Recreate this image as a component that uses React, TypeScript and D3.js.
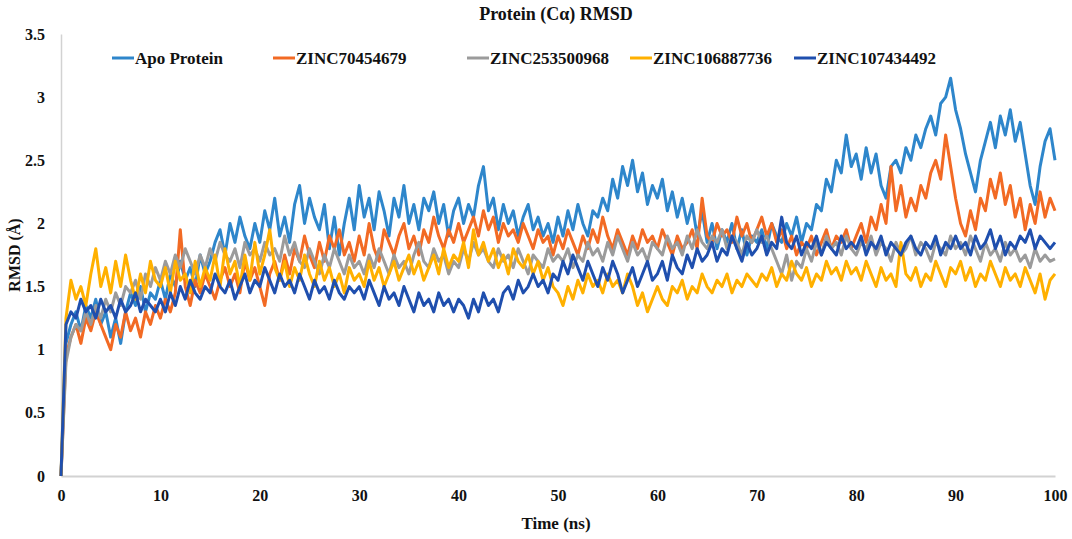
import { useEffect, useRef } from 'react';
import * as d3 from 'd3';

// sampled every 0.5 ns, 0..100
const STEP = 0.5;

const apoProtein = [
  0, 1.05, 1.2, 1.3, 1.15, 1.35, 1.25, 1.4, 1.2, 1.3, 1.1, 1.25, 1.05, 1.3, 1.45, 1.35, 1.5, 1.3, 1.45, 1.4,
  1.55, 1.4, 1.6, 1.5, 1.7, 1.55, 1.65, 1.5, 1.75, 1.6, 1.7, 1.85, 1.95, 1.75, 2.0, 1.85, 2.05, 1.9, 1.8, 2.0,
  1.85, 2.1, 1.95, 2.2, 1.9, 2.05, 1.85, 2.15, 2.3, 2.0, 2.2, 2.05, 1.95, 2.15, 1.8, 2.05, 1.75, 2.0, 2.2, 1.95,
  2.3, 2.05, 2.2, 1.95, 2.25, 2.1, 1.9, 2.2, 2.05, 2.3, 2.0, 2.15, 1.95, 2.2, 2.1, 2.25, 2.0, 2.15, 1.9, 2.1,
  2.2, 2.0, 2.15, 2.05, 2.3, 2.45, 2.1, 2.2, 1.95, 2.15, 2.0, 2.1, 1.9, 2.05, 2.15, 1.95, 2.05, 1.9, 2.0, 1.85,
  2.05, 1.9, 2.1, 1.95, 2.15, 2.0, 1.9, 2.1, 2.05, 2.2, 2.1, 2.35, 2.2, 2.45, 2.3, 2.5, 2.25, 2.4, 2.15, 2.3,
  2.2, 2.35, 2.1, 2.25, 2.05, 2.2, 2.0, 2.15, 1.9, 2.1, 1.85, 2.0, 1.8, 1.95, 1.85, 2.0, 1.8, 1.95, 1.75, 1.9,
  1.85, 1.95, 1.8, 2.0, 1.9, 1.85, 2.0, 1.9, 2.05, 1.85, 2.0, 1.95, 2.15, 2.1, 2.35, 2.25, 2.5, 2.4, 2.7, 2.45,
  2.55, 2.35, 2.6, 2.4, 2.55, 2.3, 2.2, 2.45, 2.5, 2.4, 2.6, 2.5, 2.7, 2.6, 2.75, 2.85, 2.7, 2.95, 3.0, 3.15,
  2.9, 2.75, 2.55, 2.4, 2.25, 2.5, 2.65, 2.8, 2.6, 2.85, 2.7, 2.9, 2.65, 2.8, 2.55, 2.3, 2.15, 2.45, 2.65, 2.75,
  2.5,
];

const zinc70454679 = [
  0, 0.95, 1.1, 1.2, 1.05, 1.25, 1.15, 1.3, 1.2, 1.1, 1.0, 1.2, 1.1, 1.3, 1.15, 1.25, 1.1, 1.3, 1.2, 1.35,
  1.25, 1.4, 1.3, 1.45, 1.95, 1.5, 1.35, 1.55, 1.45, 1.6, 1.5, 1.4, 1.55, 1.65, 1.5, 1.6, 1.45, 1.7, 1.55, 1.65,
  1.5, 1.35, 1.6, 1.7, 1.55, 1.75, 1.6, 1.8, 1.7, 1.9, 1.75, 1.65, 1.85, 1.7, 1.9, 1.8, 1.95, 1.75, 1.85, 1.7,
  1.9, 1.75, 2.0, 1.8, 1.7, 1.95, 1.85, 1.75, 1.9, 2.0, 1.8, 1.9, 1.75, 1.95, 1.85, 2.05, 1.9, 1.8, 1.95, 1.85,
  2.0, 1.85, 1.95, 2.05, 1.9, 2.1, 1.95, 2.05, 1.85, 2.0, 1.9, 1.95, 1.85, 2.0, 1.9, 1.8, 1.95, 1.85, 1.9, 1.75,
  1.9, 1.8, 1.95, 1.85, 1.75, 1.9, 1.8, 1.95, 1.85, 2.05, 1.9, 1.8, 1.95, 1.85, 1.75, 1.9, 1.8, 1.95, 1.85, 1.9,
  1.8, 1.95, 1.85, 1.75, 1.9, 1.8, 1.85, 1.95, 1.8, 2.2, 1.9, 1.85, 2.0, 1.9, 1.95, 1.85, 2.05, 1.9, 2.0, 1.85,
  1.95, 2.05, 1.9, 2.0, 1.85, 1.95, 1.8, 1.9, 1.75, 1.85, 1.8, 1.9, 1.75, 1.85, 1.95, 1.8, 1.9, 1.85, 1.95, 1.8,
  1.9, 2.0, 1.85, 2.05, 1.95, 2.15, 2.0, 2.45, 2.1, 2.3, 2.05, 2.2, 2.1, 2.3, 2.2, 2.4, 2.5, 2.35, 2.7, 2.45,
  2.2, 2.0, 1.9, 2.1, 1.95, 2.2, 2.1, 2.35, 2.2, 2.4, 2.15, 2.3, 2.05, 2.2, 1.95, 2.15, 2.0, 2.25, 2.05, 2.2,
  2.1,
];

const zinc253500968 = [
  0, 0.9, 1.1, 1.2, 1.15, 1.3, 1.2, 1.35, 1.25, 1.4, 1.3, 1.45, 1.35, 1.5, 1.45, 1.55, 1.4, 1.6, 1.5, 1.65,
  1.55, 1.7, 1.6, 1.75, 1.65, 1.8, 1.7, 1.6, 1.75, 1.65, 1.8, 1.7, 1.85, 1.75, 1.7, 1.8, 1.65, 1.85, 1.75, 1.8,
  1.7, 1.85, 1.75, 1.8, 1.7, 1.9, 1.75, 1.85, 1.7, 1.65, 1.8, 1.7, 1.6, 1.75, 1.65, 1.8, 1.7, 1.6, 1.75, 1.65,
  1.7, 1.6, 1.75, 1.65, 1.8, 1.7, 1.6, 1.75, 1.65, 1.7, 1.6, 1.75, 1.85, 1.7, 1.65, 1.8, 1.7, 1.75, 1.6, 1.7,
  1.65, 1.8, 1.7, 1.85, 1.75, 1.8, 1.7, 1.65, 1.8, 1.7, 1.75, 1.65, 1.8, 1.7, 1.6, 1.75, 1.7, 1.65, 1.8, 1.7,
  1.75, 1.7, 1.8, 1.65, 1.75, 1.7, 1.85, 1.75, 1.8, 1.7, 1.85, 1.75, 1.9, 1.8, 1.7, 1.85, 1.75, 1.8, 1.7, 1.85,
  1.8, 1.75, 1.9, 1.8, 1.85, 1.75, 1.9, 1.8, 1.95, 1.85, 1.8, 1.9, 1.85, 1.95, 1.8, 1.9, 1.85, 1.75, 1.9, 1.85,
  1.95, 1.85, 1.9, 1.8, 1.7, 1.6, 1.75, 1.55, 1.7, 1.65, 1.8, 1.7, 1.85, 1.75, 1.9, 1.8, 1.85, 1.75, 1.9, 1.8,
  1.75, 1.85, 1.8, 1.9, 1.75, 1.85, 1.8, 1.7, 1.85, 1.75, 1.8, 1.9, 1.75, 1.85, 1.8, 1.7, 1.85, 1.8, 1.75, 1.9,
  1.8, 1.85, 1.75, 1.9, 1.8, 1.7, 1.85, 1.75, 1.8, 1.7, 1.85, 1.75, 1.8, 1.7, 1.75, 1.65, 1.8, 1.7, 1.75, 1.7,
  1.72,
];

const zinc106887736 = [
  0, 1.25, 1.55, 1.4, 1.5, 1.35, 1.6, 1.8, 1.5, 1.65, 1.45, 1.7, 1.5, 1.75, 1.55, 1.4, 1.6, 1.45, 1.7, 1.55,
  1.5, 1.65, 1.45, 1.7, 1.55, 1.6, 1.45, 1.7, 1.5, 1.65, 1.55, 1.75, 1.5, 1.8, 1.6, 1.7, 1.5, 1.75, 1.55, 1.85,
  1.6, 1.75, 1.95, 1.65, 1.55, 1.7, 1.5, 1.65, 1.55, 1.75, 1.6, 1.5, 1.7, 1.55, 1.65, 1.5, 1.6, 1.45, 1.65, 1.55,
  1.6, 1.5, 1.7, 1.55, 1.65, 1.5, 1.6, 1.7, 1.55, 1.65, 1.75, 1.6, 1.7, 1.55, 1.65, 1.75, 1.6, 1.8, 1.65, 1.75,
  1.7, 1.85, 1.65, 1.95, 1.75, 1.85, 1.7, 1.8, 1.65, 1.75, 1.6, 1.8, 1.7, 1.65, 1.75, 1.6, 1.7, 1.55, 1.65, 1.5,
  1.45, 1.35, 1.5, 1.4, 1.55, 1.45, 1.6, 1.5, 1.55, 1.45, 1.6, 1.5, 1.55, 1.45, 1.6, 1.5, 1.35, 1.45, 1.3, 1.4,
  1.5, 1.4, 1.35, 1.5, 1.45, 1.55, 1.4, 1.5, 1.45, 1.6, 1.5, 1.45, 1.55, 1.5, 1.6, 1.45, 1.55, 1.5, 1.6, 1.55,
  1.5, 1.6, 1.55, 1.65, 1.5, 1.6, 1.55, 1.7, 1.6, 1.55, 1.65, 1.5, 1.6, 1.55, 1.7, 1.6, 1.65, 1.55, 1.7, 1.6,
  1.65, 1.55, 1.7, 1.6, 1.5, 1.65, 1.55, 1.6, 1.5, 1.85, 1.6, 1.55, 1.65, 1.5, 1.6, 1.55, 1.7, 1.6, 1.5, 1.65,
  1.6, 1.7, 1.55, 1.65, 1.5, 1.6, 1.55, 1.7, 1.6, 1.5, 1.65, 1.55, 1.6, 1.5, 1.65, 1.55, 1.45, 1.6, 1.4, 1.55,
  1.6,
];

const zinc107434492 = [
  0, 1.2, 1.3, 1.25, 1.4, 1.3, 1.35, 1.25, 1.4, 1.3, 1.35, 1.25, 1.4, 1.3, 1.35, 1.45, 1.3, 1.4, 1.35, 1.3,
  1.4, 1.3, 1.45, 1.35, 1.5, 1.4, 1.55, 1.45, 1.4, 1.5, 1.45, 1.6, 1.5, 1.45, 1.55, 1.4, 1.5, 1.6, 1.45, 1.55,
  1.5, 1.65, 1.55, 1.45, 1.6, 1.5, 1.55, 1.45, 1.6, 1.5, 1.4, 1.55, 1.45, 1.5, 1.4, 1.55, 1.45, 1.4, 1.5, 1.45,
  1.5, 1.4, 1.55, 1.45, 1.35, 1.5, 1.4, 1.45, 1.35, 1.5, 1.4, 1.3, 1.45, 1.35, 1.4, 1.3, 1.45, 1.35, 1.4, 1.3,
  1.4, 1.35, 1.25, 1.4, 1.3, 1.45, 1.35, 1.4, 1.3, 1.45, 1.5, 1.4, 1.55, 1.45, 1.5, 1.6, 1.5, 1.55, 1.45, 1.6,
  1.55, 1.7, 1.6, 1.75, 1.65, 1.55, 1.7, 1.6, 1.5, 1.65, 1.55, 1.7, 1.6, 1.45, 1.55, 1.65, 1.5, 1.6, 1.7, 1.55,
  1.6, 1.7, 1.55, 1.75, 1.65, 1.6, 1.75, 1.65, 1.8, 1.7, 1.75, 1.85, 1.7, 1.8, 1.75, 1.9, 1.8, 1.7, 1.85, 1.75,
  1.8, 1.9, 1.75, 1.85, 1.8, 2.05, 1.85, 1.8, 1.9, 1.75, 1.85, 1.8, 1.9, 1.75, 1.85, 1.8, 1.75, 1.9, 1.8, 1.85,
  1.8, 1.9, 1.75, 1.85, 1.8, 1.9, 1.75, 1.85, 1.8, 1.75, 1.85, 1.9, 1.8, 1.75, 1.85, 1.8, 1.9, 1.75, 1.85, 1.8,
  1.9, 1.8, 1.85, 1.75, 1.9, 1.8, 1.85, 1.95, 1.8, 1.9, 1.75, 1.85, 1.8, 1.9, 1.85, 1.95, 1.8, 1.9, 1.85, 1.8,
  1.85,
];

const seriesNames = ['Apo Protein', 'ZINC70454679', 'ZINC253500968', 'ZINC106887736', 'ZINC107434492'];
const seriesValues = [apoProtein, zinc70454679, zinc253500968, zinc106887736, zinc107434492];
const seriesColors = ['#2e86cb', '#f26a24', '#9b9b9b', '#ffb000', '#1f4fae'];

const xTicks = [0, 10, 20, 30, 40, 50, 60, 70, 80, 90, 100];
const yTicks = [0, 0.5, 1, 1.5, 2, 2.5, 3, 3.5];

const WIDTH = 1072;
const HEIGHT = 539;
const FONT = '"Liberation Serif", "Times New Roman", serif';
const AXIS = '#d2d2d2';

export default function App() {
  const ref = useRef<SVGSVGElement>(null);

  useEffect(() => {
    const svg = d3.select(ref.current);
    if (!svg.node()) return;
    svg.selectAll('*').remove();

    const margin = { top: 34, right: 17, bottom: 63, left: 61 };
    const x = d3.scaleLinear().domain([0, 100]).range([margin.left, WIDTH - margin.right]);
    const y = d3.scaleLinear().domain([0, 3.5]).range([HEIGHT - margin.bottom, margin.top]);

    svg.append('rect').attr('width', WIDTH).attr('height', HEIGHT).attr('fill', '#fff');

    // axes
    svg
      .append('g')
      .attr('transform', `translate(0,${y(0)})`)
      .call(d3.axisBottom(x).tickValues(xTicks).tickSize(0).tickPadding(14))
      .call((sel) => sel.select('.domain').attr('stroke', AXIS).attr('stroke-width', 2))
      .call((sel) =>
        sel
          .selectAll('text')
          .attr('fill', '#111')
          .attr('font-family', FONT)
          .attr('font-weight', 'bold')
          .attr('font-size', 16),
      );

    svg
      .append('g')
      .attr('transform', `translate(${margin.left},0)`)
      .call(d3.axisLeft(y).tickValues(yTicks).tickSize(0).tickPadding(16).tickFormat(d3.format('')))
      .call((sel) => sel.select('.domain').attr('stroke', AXIS).attr('stroke-width', 1.5))
      .call((sel) =>
        sel
          .selectAll('text')
          .attr('fill', '#111')
          .attr('font-family', FONT)
          .attr('font-weight', 'bold')
          .attr('font-size', 16),
      );

    // lines
    const line = d3
      .line<number>()
      .x((_, i) => x(i * STEP))
      .y((d) => y(d));

    seriesValues.forEach((vals, k) => {
      svg
        .append('path')
        .datum(vals)
        .attr('d', line)
        .attr('fill', 'none')
        .attr('stroke', seriesColors[k])
        .attr('stroke-width', 3)
        .attr('stroke-linejoin', 'round');
    });

    // legend
    const legendX = [112, 273, 467, 630, 794];
    const legend = svg.append('g').attr('transform', 'translate(0,58)');
    seriesNames.forEach((name, k) => {
      legend
        .append('line')
        .attr('x1', legendX[k])
        .attr('x2', legendX[k] + 22)
        .attr('stroke', seriesColors[k])
        .attr('stroke-width', 3);
      legend
        .append('text')
        .attr('x', legendX[k] + 23)
        .attr('y', 6)
        .attr('font-family', FONT)
        .attr('font-weight', 'bold')
        .attr('font-size', 17)
        .attr('fill', '#111')
        .text(name);
    });

    // title and axis labels
    svg
      .append('text')
      .attr('x', 556)
      .attr('y', 20)
      .attr('text-anchor', 'middle')
      .attr('font-family', FONT)
      .attr('font-weight', 'bold')
      .attr('font-size', 18)
      .attr('fill', '#111')
      .text('Protein (Cα) RMSD');

    svg
      .append('text')
      .attr('x', 556)
      .attr('y', 529)
      .attr('text-anchor', 'middle')
      .attr('font-family', FONT)
      .attr('font-weight', 'bold')
      .attr('font-size', 17)
      .attr('fill', '#111')
      .text('Time (ns)');

    svg
      .append('text')
      .attr('transform', `translate(20,${(y(0) + y(3.5)) / 2}) rotate(-90)`)
      .attr('text-anchor', 'middle')
      .attr('font-family', FONT)
      .attr('font-weight', 'bold')
      .attr('font-size', 16)
      .attr('fill', '#111')
      .text('RMSD (Å)');
  }, []);

  return (
    <>
      <style>{'body{margin:0}'}</style>
      <svg ref={ref} width={WIDTH} height={HEIGHT} style={{ display: 'block' }} />
    </>
  );
}
